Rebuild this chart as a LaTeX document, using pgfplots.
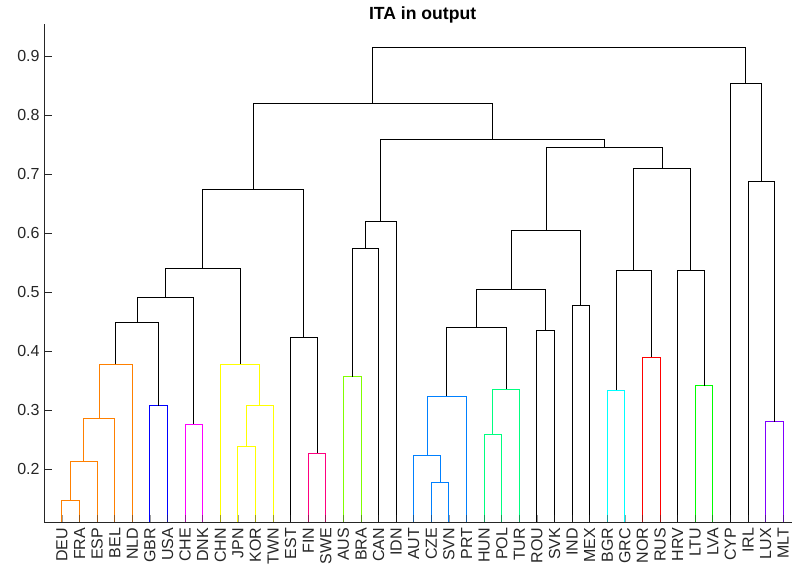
\documentclass[border=0pt]{standalone}
\usepackage{fontspec}
\setmainfont{Liberation Sans}
\usepackage{pgfplots}
\pgfplotsset{compat=1.18}
\definecolor{axgray}{RGB}{38,38,38}
\definecolor{cOrange}{RGB}{255,128,0}
\definecolor{cBlue}{RGB}{0,0,255}
\definecolor{cMagenta}{RGB}{255,0,255}
\definecolor{cYellow}{RGB}{255,255,0}
\definecolor{cRose}{RGB}{255,0,128}
\definecolor{cChart}{RGB}{128,255,0}
\definecolor{cAzure}{RGB}{0,128,255}
\definecolor{cSpring}{RGB}{0,255,128}
\definecolor{cCyan}{RGB}{0,255,255}
\definecolor{cRed}{RGB}{255,0,0}
\definecolor{cGreen}{RGB}{0,255,0}
\definecolor{cViolet}{RGB}{128,0,255}
\begin{document}
\begin{tikzpicture}[x=1pt,y=1pt]
\useasboundingbox (0,0) rectangle (792,569);
\begin{axis}[
  at={(44.4pt,46.3pt)}, anchor=south west,
  scale only axis, width=756.4pt, height=498.4pt,
  xmin=0, xmax=43, ymin=0.1097, ymax=0.9537,
  axis x line*=bottom, axis y line*=left,
  axis line style={draw=axgray, line width=0.8pt},
  axis on top=true,
  tick align=inside, major tick length=7.5pt,
  xtick={1,...,42},
  xticklabels={DEU,FRA,ESP,BEL,NLD,GBR,USA,CHE,DNK,CHN,JPN,KOR,TWN,EST,FIN,SWE,AUS,BRA,CAN,IDN,AUT,CZE,SVN,PRT,HUN,POL,TUR,ROU,SVK,IND,MEX,BGR,GRC,NOR,RUS,HRV,LTU,LVA,CYP,IRL,LUX,MLT},
  x tick label style={rotate=90, anchor=east, font=\fontsize{16}{19}\selectfont, text=axgray},
  xticklabel shift=1.7pt,
  xtick style={draw=axgray, line width=0.8pt, opacity=0.45},
  ytick={0.2,0.3,0.4,0.5,0.6,0.7,0.8,0.9},
  yticklabels={0.2,0.3,0.4,0.5,0.6,0.7,0.8,0.9},
  y tick label style={font=\fontsize{16}{19}\selectfont, text=axgray},
  yticklabel shift=1.3pt,
  ytick style={draw=axgray, line width=0.8pt},
  title={ITA in output},
  every axis title/.style={at={(0.5,1)}, anchor=base, yshift=4.3pt, font=\fontsize{17.6}{20}\selectfont\bfseries, text=black},
  link/.style={line width=1pt, mark=none},
]
\addplot[color=cOrange, link] coordinates {(1,0) (1,0.148) (2,0.148) (2,0)};
\addplot[color=cOrange, link] coordinates {(1.5,0.148) (1.5,0.214) (3,0.214) (3,0)};
\addplot[color=cOrange, link] coordinates {(2.25,0.214) (2.25,0.286) (4,0.286) (4,0)};
\addplot[color=cOrange, link] coordinates {(3.125,0.286) (3.125,0.378) (5,0.378) (5,0)};
\addplot[color=cBlue, link] coordinates {(6,0) (6,0.308) (7,0.308) (7,0)};
\addplot[color=black, link] coordinates {(4.0625,0.378) (4.0625,0.448) (6.5,0.448) (6.5,0.308)};
\addplot[color=cMagenta, link] coordinates {(8,0) (8,0.276) (9,0.276) (9,0)};
\addplot[color=black, link] coordinates {(5.28125,0.448) (5.28125,0.491) (8.5,0.491) (8.5,0.276)};
\addplot[color=cYellow, link] coordinates {(11,0) (11,0.239) (12,0.239) (12,0)};
\addplot[color=cYellow, link] coordinates {(11.5,0.239) (11.5,0.308) (13,0.308) (13,0)};
\addplot[color=cYellow, link] coordinates {(10,0) (10,0.378) (12.25,0.378) (12.25,0.308)};
\addplot[color=black, link] coordinates {(6.890625,0.491) (6.890625,0.540) (11.125,0.540) (11.125,0.378)};
\addplot[color=cRose, link] coordinates {(15,0) (15,0.227) (16,0.227) (16,0)};
\addplot[color=black, link] coordinates {(14,0) (14,0.423) (15.5,0.423) (15.5,0.227)};
\addplot[color=black, link] coordinates {(9.0078,0.540) (9.0078,0.674) (14.75,0.674) (14.75,0.423)};
\addplot[color=cChart, link] coordinates {(17,0) (17,0.357) (18,0.357) (18,0)};
\addplot[color=black, link] coordinates {(17.5,0.357) (17.5,0.574) (19,0.574) (19,0)};
\addplot[color=black, link] coordinates {(18.25,0.574) (18.25,0.619) (20,0.619) (20,0)};
\addplot[color=cAzure, link] coordinates {(22,0) (22,0.177) (23,0.177) (23,0)};
\addplot[color=cAzure, link] coordinates {(21,0) (21,0.224) (22.5,0.224) (22.5,0.177)};
\addplot[color=cAzure, link] coordinates {(21.75,0.224) (21.75,0.324) (24,0.324) (24,0)};
\addplot[color=cSpring, link] coordinates {(25,0) (25,0.259) (26,0.259) (26,0)};
\addplot[color=cSpring, link] coordinates {(25.5,0.259) (25.5,0.336) (27,0.336) (27,0)};
\addplot[color=black, link] coordinates {(22.875,0.324) (22.875,0.440) (26.25,0.440) (26.25,0.336)};
\addplot[color=black, link] coordinates {(28,0) (28,0.435) (29,0.435) (29,0)};
\addplot[color=black, link] coordinates {(24.5625,0.440) (24.5625,0.505) (28.5,0.505) (28.5,0.435)};
\addplot[color=black, link] coordinates {(30,0) (30,0.478) (31,0.478) (31,0)};
\addplot[color=black, link] coordinates {(26.53125,0.505) (26.53125,0.604) (30.5,0.604) (30.5,0.478)};
\addplot[color=cCyan, link] coordinates {(32,0) (32,0.334) (33,0.334) (33,0)};
\addplot[color=cRed, link] coordinates {(34,0) (34,0.390) (35,0.390) (35,0)};
\addplot[color=black, link] coordinates {(32.5,0.334) (32.5,0.537) (34.5,0.537) (34.5,0.390)};
\addplot[color=cGreen, link] coordinates {(37,0) (37,0.342) (38,0.342) (38,0)};
\addplot[color=black, link] coordinates {(36,0) (36,0.536) (37.5,0.536) (37.5,0.342)};
\addplot[color=black, link] coordinates {(33.5,0.537) (33.5,0.709) (36.75,0.709) (36.75,0.536)};
\addplot[color=black, link] coordinates {(28.515625,0.604) (28.515625,0.745) (35.125,0.745) (35.125,0.709)};
\addplot[color=black, link] coordinates {(19.125,0.619) (19.125,0.759) (31.8203,0.759) (31.8203,0.745)};
\addplot[color=black, link] coordinates {(11.8789,0.674) (11.8789,0.819) (25.4727,0.819) (25.4727,0.759)};
\addplot[color=cViolet, link] coordinates {(41,0) (41,0.281) (42,0.281) (42,0)};
\addplot[color=black, link] coordinates {(40,0) (40,0.687) (41.5,0.687) (41.5,0.281)};
\addplot[color=black, link] coordinates {(39,0) (39,0.854) (40.75,0.854) (40.75,0.687)};
\addplot[color=black, link] coordinates {(18.6758,0.819) (18.6758,0.914) (39.875,0.914) (39.875,0.854)};
\end{axis}
\end{tikzpicture}
\end{document}
